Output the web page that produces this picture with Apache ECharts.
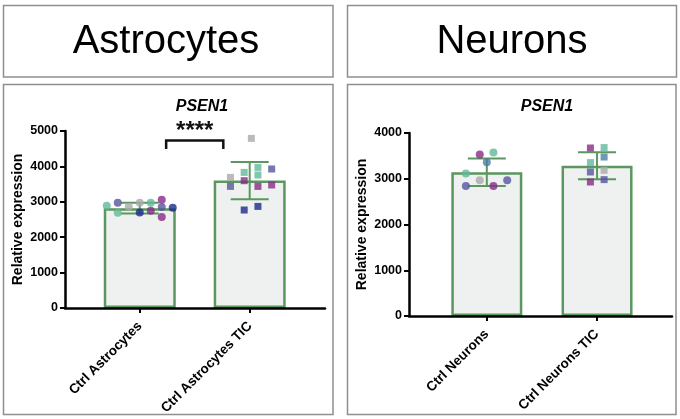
<!DOCTYPE html>
<html>
<head>
<meta charset="utf-8">
<script src="https://cdn.jsdelivr.net/npm/echarts@6/dist/echarts.min.js"></script>
<style>
html,body{margin:0;padding:0;background:#fff;}
#chart{width:680px;height:419px;}
</style>
</head>
<body>
<div id="chart"></div>
<script>
// ---------------- DATA ----------------
const panelTitles = ['Astrocytes', 'Neurons'];
const geneTitle = 'PSEN1';
const yAxisName = 'Relative expression';

const astroCategories = ['Ctrl Astrocytes', 'Ctrl Astrocytes TIC'];
const neuronCategories = ['Ctrl Neurons', 'Ctrl Neurons TIC'];

const astroYMax = 5000;
const neuronYMax = 4000;
const yTickStep = 1000;

const astroMean = [2820, 3600];
const astroSD = [150, 525];
const neuronMean = [3140, 3285];
const neuronSD = [300, 295];

// individual replicates (value, donor, jitter slot within category)
const astroCtrlValues = [2890, 2975, 2692, 2862, 2975, 2700, 2975, 2748, 3059, 2853, 2570, 2833];
const astroCtrlDonors = ['teal', 'slate', 'teal', 'gray', 'gray', 'navy', 'teal', 'purple', 'purple', 'slate', 'purple', 'navy'];
const astroCtrlJitter = [-0.3, -0.2, -0.2, -0.1, 0, 0, 0.1, 0.1, 0.2, 0.2, 0.2, 0.3];

const astroTicValues = [3689, 3435, 3831, 3596, 2768, 3972, 3757, 3435, 2870, 3927, 3475, 4791];
const astroTicDonors = ['gray', 'slate', 'teal', 'purple', 'navy', 'teal', 'teal', 'purple', 'navy', 'slate', 'purple', 'gray'];
const astroTicJitter = [-0.175, -0.175, -0.05, -0.05, -0.05, 0.075, 0.075, 0.075, 0.075, 0.2, 0.2, 0.015];

const neuronCtrlValues = [3528, 3572, 3360, 3113, 2966, 2966, 2842, 2842];
const neuronCtrlDonors = ['purple', 'teal', 'steel', 'teal', 'gray', 'slate', 'slate', 'purple'];
const neuronCtrlJitter = [-0.064, 0.06, 0, -0.19, -0.064, 0.185, -0.19, 0.06];

const neuronTicValues = [3672, 3681, 3475, 3353, 3148, 3185, 2929, 2981];
const neuronTicDonors = ['purple', 'teal', 'steel', 'teal', 'slate', 'gray', 'purple', 'slate'];
const neuronTicJitter = [-0.06, 0.064, 0.064, -0.06, -0.06, 0.064, -0.06, 0.064];

const astroSigLabel = '****';
const astroSigBracket = [4490, 4730]; // leg bottom, bracket top

// ---------------- STYLE ----------------
const donorColors = {
  teal: '#62b89a', slate: '#55559f', gray: '#aaaaaa', navy: '#1c2b8c',
  purple: '#882a88', steel: '#4a7fa2'
};
const green = '#5b975e';
const barFill = '#eef1ef';
const FONT = 'Liberation Sans, Arial, sans-serif';

function pts(values, donors, jitter, cat) {
  return values.map((v, i) => ({
    value: [cat + jitter[i], v],
    itemStyle: { color: donorColors[donors[i]] }
  }));
}

function errorRender(params, api) {
  const x = api.value(0), m = api.value(1), sd = api.value(2);
  const t = api.coord([x, m + sd]);
  const b = api.coord([x, m - sd]);
  const h = 19;
  const st = { stroke: green, lineWidth: 2 };
  return { type: 'group', children: [
    { type: 'line', shape: { x1: t[0], y1: t[1], x2: b[0], y2: b[1] }, style: st },
    { type: 'line', shape: { x1: t[0] - h, y1: t[1], x2: t[0] + h, y2: t[1] }, style: st },
    { type: 'line', shape: { x1: b[0] - h, y1: b[1], x2: b[0] + h, y2: b[1] }, style: st }
  ]};
}

function sigRender(params, api) {
  const inset = 0.24;
  const x1 = api.value(0) + inset, x2 = api.value(1) - inset;
  const legY = api.value(2), topY = api.value(3), lblY = api.value(4);
  const p1 = api.coord([x1, legY]), p2 = api.coord([x1, topY]);
  const p3 = api.coord([x2, topY]), p4 = api.coord([x2, legY]);
  const lp = api.coord([(x1 + x2) / 2, lblY]);
  return { type: 'group', children: [
    { type: 'polyline', shape: { points: [p1, p2, p3, p4] },
      style: { stroke: '#111', lineWidth: 2.5, fill: null } },
    { type: 'text', x: lp[0], y: lp[1],
      style: { text: astroSigLabel, fill: '#111', font: 'bold 24px ' + FONT,
               textAlign: 'center', textVerticalAlign: 'middle' } }
  ]};
}

const chart = echarts.init(document.getElementById('chart'), null, { renderer: 'canvas' });

function valueX(gridIndex, min, max) {
  return { type: 'value', gridIndex, min, max, z: 5,
    axisLine: { show: true, onZero: false, lineStyle: { color: '#000', width: 2.5 } },
    axisTick: { show: false }, axisLabel: { show: false }, splitLine: { show: false } };
}
function catX(gridIndex, data) {
  return { type: 'category', gridIndex, data, boundaryGap: true,
    axisLine: { show: false },
    axisTick: { show: true, alignWithLabel: true, length: 5, lineStyle: { color: '#000', width: 2 } },
    axisLabel: { rotate: 45, margin: 16, fontFamily: FONT, fontWeight: 'bold', fontSize: 13.5, color: '#000', interval: 0 } };
}
function valueY(gridIndex, max) {
  return { type: 'value', gridIndex, min: 0, max, interval: yTickStep, z: 5,
    name: yAxisName, nameLocation: 'middle', nameGap: 40,
    nameTextStyle: { fontFamily: FONT, fontWeight: 'bold', fontSize: 14, color: '#000' },
    axisLine: { show: true, onZero: false, lineStyle: { color: '#000', width: 2.5 } },
    axisTick: { show: true, length: 5, lineStyle: { color: '#000', width: 2 } },
    axisLabel: { margin: 7, fontFamily: FONT, fontWeight: 'bold', fontSize: 12.5, color: '#000',
      formatter: (v) => String(v) },
    splitLine: { show: false } };
}
function hiddenY(gridIndex) {
  return { type: 'value', gridIndex, min: 0, max: 1, show: false };
}

const option = {
  animation: false,
  backgroundColor: '#fff',
  grid: [
    { left: 65, right: 355, top: 131, bottom: 111 },
    { left: 85, width: 220, top: 131, bottom: 111 },
    { left: 409, right: 8, top: 133, bottom: 103 },
    { left: 431.7, width: 220, top: 133, bottom: 103 }
  ],
  xAxis: [
    valueX(0, -0.68, 1.685),
    catX(1, astroCategories),
    valueX(2, -0.706, 1.68),
    catX(3, neuronCategories)
  ],
  yAxis: [
    valueY(0, astroYMax),
    hiddenY(1),
    valueY(2, neuronYMax),
    hiddenY(3)
  ],
  title: [
    { text: geneTitle, left: 197, top: 94, textAlign: 'center',
      textStyle: { fontFamily: FONT, fontWeight: 'bold', fontStyle: 'italic', fontSize: 16, color: '#000' } },
    { text: geneTitle, left: 542, top: 94, textAlign: 'center',
      textStyle: { fontFamily: FONT, fontWeight: 'bold', fontStyle: 'italic', fontSize: 16, color: '#000' } }
  ],
  graphic: [
    { type: 'rect', shape: { x: 3.5, y: 5.5, width: 329.5, height: 71.5 }, style: { fill: null, stroke: '#8f8f8f', lineWidth: 1.5 } },
    { type: 'rect', shape: { x: 347.5, y: 5.5, width: 329, height: 71.5 }, style: { fill: null, stroke: '#8f8f8f', lineWidth: 1.5 } },
    { type: 'rect', shape: { x: 3.5, y: 84.5, width: 329.5, height: 330 }, style: { fill: null, stroke: '#8f8f8f', lineWidth: 1.5 } },
    { type: 'rect', shape: { x: 347.5, y: 84.5, width: 328.5, height: 330 }, style: { fill: null, stroke: '#8f8f8f', lineWidth: 1.5 } },
    { type: 'text', x: 166, y: 42, style: { text: panelTitles[0], font: '40px ' + FONT, fill: '#000', textAlign: 'center', textVerticalAlign: 'middle' } },
    { type: 'text', x: 512, y: 42, style: { text: panelTitles[1], font: '40px ' + FONT, fill: '#000', textAlign: 'center', textVerticalAlign: 'middle' } }
  ],
  series: [
    { type: 'bar', xAxisIndex: 0, yAxisIndex: 0, barWidth: 72, z: 2,
      data: astroMean.map((m, i) => [i, m]),
      itemStyle: { color: barFill, borderColor: green, borderWidth: 2.5 } },
    { type: 'custom', xAxisIndex: 0, yAxisIndex: 0, z: 3, renderItem: errorRender,
      data: astroMean.map((m, i) => [i, m, astroSD[i]]) },
    { type: 'scatter', xAxisIndex: 0, yAxisIndex: 0, symbol: 'circle', symbolSize: 8, z: 4,
      data: pts(astroCtrlValues, astroCtrlDonors, astroCtrlJitter, 0) },
    { type: 'scatter', xAxisIndex: 0, yAxisIndex: 0, symbol: 'rect', symbolSize: 7, z: 4,
      data: pts(astroTicValues, astroTicDonors, astroTicJitter, 1) },
    { type: 'custom', xAxisIndex: 0, yAxisIndex: 0, z: 4, renderItem: sigRender, clip: false,
      data: [[0, 1, astroSigBracket[0], astroSigBracket[1], astroYMax]] },

    { type: 'bar', xAxisIndex: 2, yAxisIndex: 2, barWidth: 71, z: 2,
      data: neuronMean.map((m, i) => [i, m]),
      itemStyle: { color: barFill, borderColor: green, borderWidth: 2.5 } },
    { type: 'custom', xAxisIndex: 2, yAxisIndex: 2, z: 3, renderItem: errorRender,
      data: neuronMean.map((m, i) => [i, m, neuronSD[i]]) },
    { type: 'scatter', xAxisIndex: 2, yAxisIndex: 2, symbol: 'circle', symbolSize: 8, z: 4,
      data: pts(neuronCtrlValues, neuronCtrlDonors, neuronCtrlJitter, 0) },
    { type: 'scatter', xAxisIndex: 2, yAxisIndex: 2, symbol: 'rect', symbolSize: 7, z: 4,
      data: pts(neuronTicValues, neuronTicDonors, neuronTicJitter, 1) }
  ]
};
chart.setOption(option);
</script>
</body>
</html>
